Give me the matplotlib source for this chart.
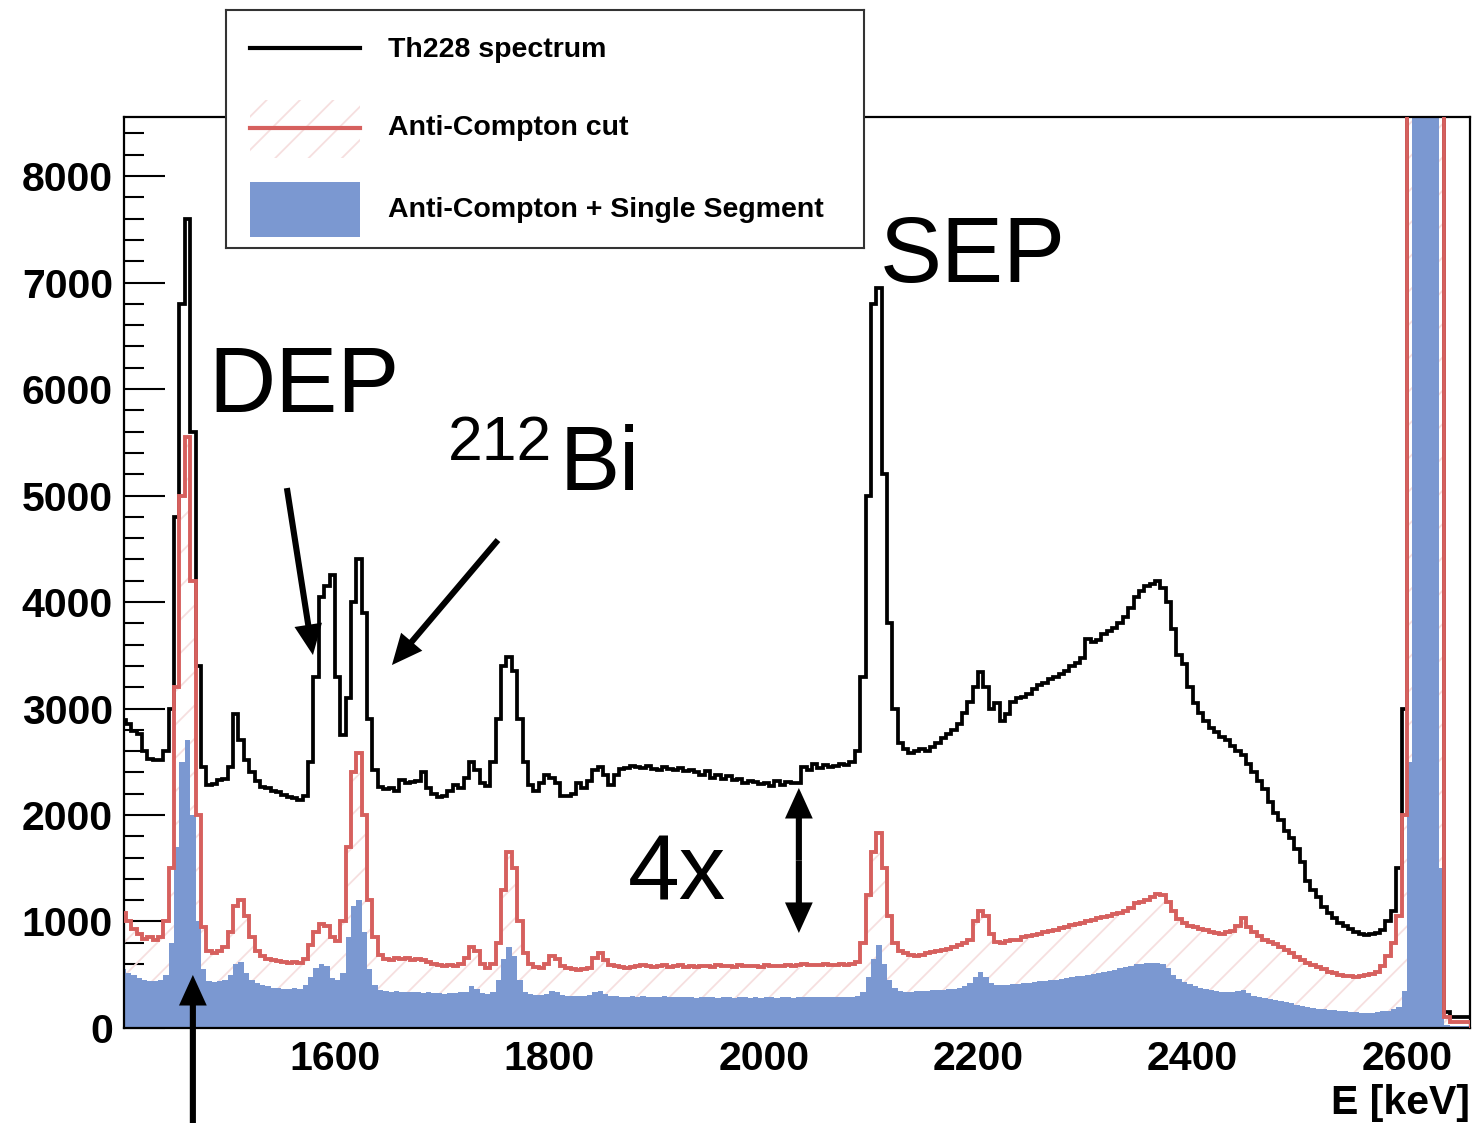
import numpy as np
import matplotlib
matplotlib.use("Agg")
import matplotlib.pyplot as plt
from matplotlib.patches import Rectangle
from matplotlib.ticker import MultipleLocator

plt.rcParams['font.family'] = ['Liberation Sans', 'DejaVu Sans']
plt.rcParams['hatch.linewidth'] = 1.3

# spectra, 5 keV bins starting at 1400 keV (one row = 50 keV)
bin_start = 1400
bin_width = 5

th228 = [
    2890, 2850, 2790, 2760, 2600, 2530, 2520, 2520, 2600, 3000,
    4800, 6800, 7600, 5600, 3400, 2450, 2280, 2290, 2330, 2340,
    2450, 2950, 2700, 2520, 2400, 2320, 2260, 2250, 2230, 2220,
    2190, 2170, 2160, 2140, 2180, 2500, 3300, 4050, 4150, 4250,
    3300, 2750, 3100, 4000, 4400, 3900, 2900, 2420, 2260, 2240,
    2250, 2230, 2330, 2300, 2310, 2320, 2400, 2250, 2200, 2170,
    2180, 2230, 2280, 2250, 2350, 2500, 2420, 2300, 2270, 2500,
    2900, 3400, 3480, 3350, 2900, 2500, 2280, 2230, 2300, 2380,
    2350, 2300, 2180, 2180, 2200, 2300, 2250, 2320, 2420, 2450,
    2380, 2280, 2380, 2430, 2440, 2460, 2450, 2440, 2460, 2430,
    2420, 2450, 2430, 2420, 2440, 2410, 2420, 2400, 2380, 2410,
    2350, 2380, 2340, 2370, 2330, 2340, 2300, 2320, 2310, 2290,
    2300, 2270, 2320, 2280, 2310, 2300, 2300, 2450, 2420, 2480,
    2440, 2470, 2450, 2460, 2480, 2470, 2500, 2600, 3300, 5000,
    6800, 6950, 5200, 3800, 3000, 2680, 2620, 2580, 2600, 2620,
    2600, 2640, 2680, 2720, 2760, 2800, 2850, 2960, 3060, 3200,
    3340, 3200, 3000, 3050, 2880, 2950, 3060, 3100, 3110, 3140,
    3180, 3220, 3240, 3280, 3300, 3320, 3350, 3400, 3430, 3470,
    3650, 3620, 3640, 3700, 3730, 3760, 3800, 3860, 3940, 4050,
    4100, 4150, 4170, 4200, 4130, 4000, 3750, 3500, 3420, 3200,
    3050, 2960, 2880, 2820, 2780, 2730, 2700, 2650, 2600, 2560,
    2480, 2400, 2320, 2240, 2120, 2020, 1950, 1850, 1780, 1680,
    1560, 1380, 1300, 1230, 1140, 1080, 1030, 990, 960, 930,
    900, 880, 870, 880, 890, 920, 1000, 1100, 1500, 3000,
    24000, 24000, 24000, 24000, 24000, 24000, 24000, 150, 100, 100,
    100, 100,
]

anti_compton = [
    1080, 1000, 930, 880, 840, 850, 830, 850, 1000, 1500,
    3200, 5000, 5550, 4200, 2000, 950, 720, 700, 720, 760,
    900, 1150, 1200, 1050, 850, 720, 680, 650, 640, 630,
    620, 610, 620, 610, 650, 780, 900, 980, 960, 850,
    820, 1000, 1700, 2400, 2580, 2000, 1200, 850, 690, 650,
    640, 660, 650, 660, 640, 650, 640, 620, 600, 590,
    580, 590, 580, 600, 660, 760, 720, 600, 560, 600,
    800, 1300, 1650, 1500, 1000, 700, 600, 570, 560, 600,
    680, 650, 580, 560, 550, 540, 550, 560, 660, 700,
    640, 590, 580, 570, 560, 570, 580, 590, 580, 570,
    580, 590, 575, 580, 590, 575, 580, 570, 585, 580,
    575, 590, 580, 585, 575, 590, 580, 585, 580, 575,
    590, 580, 585, 580, 590, 585, 590, 600, 590, 595,
    590, 600, 595, 590, 600, 595, 600, 620, 800, 1250,
    1650, 1830, 1500, 1050, 800, 720, 700, 690, 680, 690,
    700, 710, 720, 730, 740, 760, 780, 800, 830, 1000,
    1100, 1050, 880, 810, 800, 820, 830, 830, 850, 860,
    870, 880, 900, 910, 920, 940, 950, 970, 980, 990,
    1000, 1010, 1030, 1040, 1050, 1070, 1080, 1100, 1130, 1170,
    1180, 1200, 1230, 1260, 1250, 1180, 1100, 1020, 990, 960,
    950, 930, 920, 900, 890, 880, 900, 910, 960, 1030,
    950, 900, 860, 830, 810, 790, 760, 730, 700, 670,
    640, 610, 590, 570, 550, 530, 520, 500, 490, 490,
    480, 490, 500, 510, 530, 580, 680, 800, 1050, 2000,
    24000, 24000, 24000, 24000, 24000, 24000, 24000, 100, 60, 60,
    60, 60,
]

single_segment = [
    550, 520, 500, 470, 450, 440, 440, 450, 500, 800,
    1700, 2500, 2700, 2000, 1000, 550, 440, 430, 440, 450,
    500, 600, 620, 520, 450, 420, 400, 390, 380, 380,
    370, 370, 380, 370, 400, 480, 560, 600, 580, 470,
    450, 520, 850, 1150, 1200, 900, 550, 400, 360, 350,
    340, 345, 340, 335, 340, 335, 330, 335, 330, 325,
    320, 325, 330, 335, 340, 390, 370, 330, 320, 340,
    450, 650, 760, 680, 450, 340, 320, 310, 310, 320,
    350, 340, 310, 300, 300, 300, 305, 310, 340, 350,
    320, 300, 300, 295, 295, 300, 295, 300, 295, 290,
    295, 300, 290, 295, 290, 295, 290, 285, 290, 295,
    290, 285, 290, 290, 285, 290, 290, 285, 290, 285,
    290, 290, 285, 290, 290, 285, 290, 290, 295, 290,
    290, 295, 290, 290, 295, 290, 295, 300, 340, 480,
    650, 780, 600, 450, 380, 350, 340, 340, 345, 350,
    350, 355, 360, 360, 365, 370, 380, 390, 420, 480,
    530, 480, 420, 400, 400, 405, 410, 415, 420, 425,
    430, 440, 445, 450, 455, 460, 470, 480, 485, 490,
    500, 505, 515, 525, 535, 545, 560, 570, 585, 600,
    600, 610, 610, 610, 600, 560, 500, 460, 430, 410,
    390, 380, 370, 360, 350, 340, 335, 340, 350, 360,
    330, 300, 290, 280, 270, 260, 250, 240, 230, 220,
    210, 200, 190, 180, 175, 170, 165, 160, 155, 150,
    150, 145, 145, 145, 150, 155, 160, 175, 200, 350,
    2500, 24000, 24000, 24000, 24000, 24000, 1500, 30, 20, 20,
    20, 20,
]

legend_labels = ["Th228 spectrum", "Anti-Compton cut", "Anti-Compton + Single Segment"]

RED = '#d6605e'
BLUE = '#7b98d1'
HATCH = '#f6dfdf'

edges = bin_start + bin_width * np.arange(len(th228) + 1)

fig = plt.figure(figsize=(14.72, 11.23), dpi=100)
ax = fig.add_axes([0.0842, 0.0846, 0.9144, 0.8112])

# hatched area under the anti-compton histogram, then the filled single segment one
ax.stairs(anti_compton, edges, fill=True, facecolor='none', edgecolor=HATCH,
          hatch='/', linewidth=0, zorder=1)
ax.stairs(single_segment, edges, fill=True, facecolor=BLUE, edgecolor='none',
          linewidth=0, zorder=2)
ax.stairs(th228, edges, color='black', linewidth=2.7, zorder=3)
ax.stairs(anti_compton, edges, color=RED, linewidth=2.8, zorder=4)

ax.set_xlim(1403.2, 2658.8)
ax.set_ylim(0, 8554)
ax.set_axisbelow(True)

ax.set_xticks([1600, 1800, 2000, 2200, 2400, 2600])
ax.set_yticks(np.arange(0, 8001, 1000))
ax.yaxis.set_minor_locator(MultipleLocator(200))
ax.tick_params(axis='y', which='major', direction='in', length=29.5, width=1.5,
               labelsize=29.5, pad=8)
ax.tick_params(axis='y', which='minor', direction='in', length=14.5, width=1.5)
ax.tick_params(axis='x', which='both', length=0, labelsize=29.5, pad=9)
for lbl in ax.get_xticklabels() + ax.get_yticklabels():
    lbl.set_fontweight('bold')
for sp in ax.spines.values():
    sp.set_linewidth(1.6)
ax.set_xlabel('E [keV]', loc='right', fontsize=29.5, fontweight='bold', labelpad=4)

# peak labels
ax.text(1481.5, 5784, 'DEP', fontsize=67, va='baseline', zorder=6)
ax.text(2108.4, 7005, 'SEP', fontsize=67, va='baseline', zorder=6)
ax.text(1705.0, 5333, '212', fontsize=45, va='baseline', zorder=6)
ax.text(1809.9, 5052, 'Bi', fontsize=65, va='baseline', zorder=6)
ax.text(1873.3, 1202, '4x', fontsize=67, va='baseline', zorder=6)

arrow = dict(arrowstyle='simple,head_length=1.1,head_width=1.0,tail_width=0.22',
             mutation_scale=20, facecolor='black', edgecolor='none',
             shrinkA=0, shrinkB=0)
ax.annotate('', xy=(1579.5, 3502), xytext=(1555.2, 5070), arrowprops=arrow, zorder=6)
ax.annotate('', xy=(1653.2, 3408), xytext=(1752.1, 4582), arrowprops=arrow, zorder=6)
ax.annotate('', xy=(2032.8, 2254), xytext=(2032.8, 1573), arrowprops=arrow, zorder=6)
ax.annotate('', xy=(2032.8, 892), xytext=(2032.8, 1573), arrowprops=arrow, zorder=6)
ax.annotate('', xy=(1467.5, 498), xytext=(1467.5, -892), arrowprops=arrow,
            annotation_clip=False, zorder=6)

# legend box drawn in its own small axes (pixel units inside the box)
leg = fig.add_axes([226 / 1472, 1 - 248 / 1123, 638 / 1472, 238 / 1123])
leg.set_xlim(0, 638)
leg.set_ylim(238, 0)
leg.set_xticks([])
leg.set_yticks([])
for sp in leg.spines.values():
    sp.set_linewidth(1.5)
    sp.set_color('#333333')

leg.plot([24, 134], [38, 38], color='black', linewidth=3.0)
leg.add_patch(Rectangle((24, 90), 110, 58, facecolor='none', edgecolor=HATCH,
                        hatch='/', linewidth=0))
leg.plot([24, 134], [118, 118], color=RED, linewidth=3.0)
leg.add_patch(Rectangle((24, 172), 110, 55, facecolor=BLUE, linewidth=0))
for yy, txt in zip([40, 118, 200], legend_labels):
    leg.text(162, yy, txt, fontsize=20.5, fontweight='bold', va='center')

fig.savefig('out.png', dpi=100)
